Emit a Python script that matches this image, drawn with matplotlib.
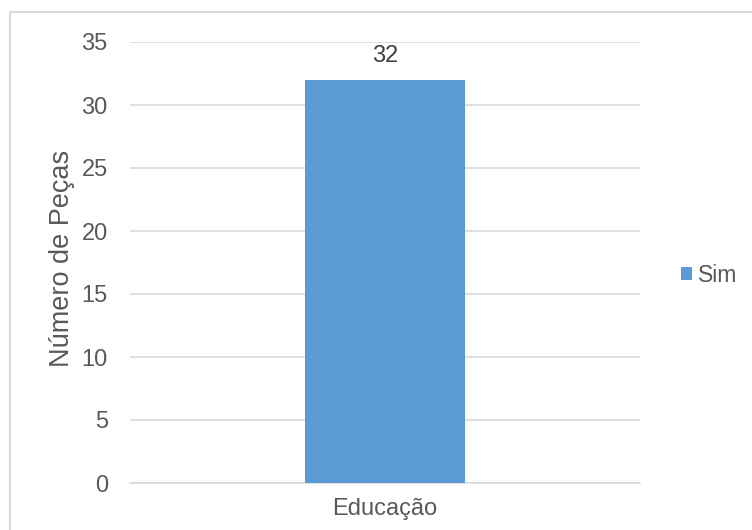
import matplotlib.pyplot as plt
from matplotlib.patches import Rectangle

categories = ['Educação']
sim = [32]
yticks = [0, 5, 10, 15, 20, 25, 30, 35]

plt.rcParams['font.family'] = ['Liberation Sans', 'DejaVu Sans']

text_color = '#595959'
bar_color = '#5B9BD5'
grid_color = '#D9D9D9'

fig = plt.figure(figsize=(7.52, 5.30), dpi=100)
ax = fig.add_axes([130 / 752, 47 / 530, 510 / 752, 441 / 530])

# chart area border
fig.patches.append(Rectangle((10 / 752, -0.05), 1.0, 1 - 12 / 530 + 0.05,
                             transform=fig.transFigure, fill=False,
                             edgecolor=grid_color, linewidth=1.5))

bars = ax.bar(range(len(categories)), sim, width=0.314, color=bar_color, label='Sim', zorder=3)
for b, v in zip(bars, sim):
    ax.text(b.get_x() + b.get_width() / 2, v + 1.0, str(v), ha='center', va='bottom',
            fontsize=17, color='#404040')

ax.set_xlim(-0.5, 0.5)
ax.set_ylim(0, 35)
ax.set_yticks(yticks)
ax.set_xticks(range(len(categories)))
ax.set_xticklabels(categories)
ax.tick_params(axis='both', length=0, labelsize=17, labelcolor=text_color)
ax.tick_params(axis='y', pad=16)
ax.tick_params(axis='x', pad=11)

ax.grid(axis='y', color=grid_color, linewidth=1.2, zorder=0)
for s in ['top', 'right', 'left']:
    ax.spines[s].set_visible(False)
ax.spines['bottom'].set_color(grid_color)
ax.spines['bottom'].set_linewidth(1.2)

fig.text(62 / 752, 1 - 258 / 530, 'Número de Peças', rotation=90, ha='center', va='center',
         fontsize=19.5, color=text_color)

fig.legend(handles=[bars], labels=['Sim'], loc='center left',
           bbox_to_anchor=(681 / 752, 1 - 275 / 530), frameon=False, borderpad=0,
           borderaxespad=0, fontsize=16.5, labelcolor=text_color, handlelength=0.5,
           handleheight=0.5, handletextpad=0.25)

fig.savefig('out.png', dpi=100)
